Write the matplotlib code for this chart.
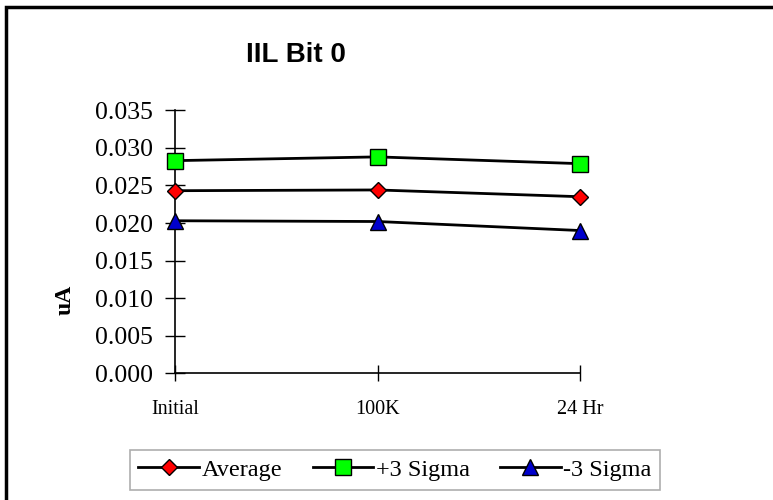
import matplotlib.pyplot as plt
from matplotlib.patches import Rectangle

categories = ["Initial", "100K", "24 Hr"]
average = [0.0243, 0.0244, 0.0235]
plus3 = [0.0283, 0.0288, 0.0279]
minus3 = [0.0203, 0.0202, 0.0190]
yticks = [0.000, 0.005, 0.010, 0.015, 0.020, 0.025, 0.030, 0.035]

serif = "Liberation Serif"
sans = "Liberation Sans"

fig = plt.figure(figsize=(7.73, 5.0), dpi=100)
ax = fig.add_axes([175 / 773, 1 - 373.3 / 500, 405 / 773, 263 / 500])

x = range(len(categories))
ax.plot(x, average, color="black", lw=2, marker="D", ms=8, mfc="#ff0000",
        mec="black", mew=1, label="Average", clip_on=False, zorder=3)
ax.plot(x, plus3, color="black", lw=2, marker="s", ms=12, mfc="#00ff00",
        mec="black", mew=1, label="+3 Sigma", clip_on=False, zorder=3)
ax.plot(x, minus3, color="black", lw=2, marker="^", ms=12, mfc="#0000cc",
        mec="black", mew=1, label="-3 Sigma", clip_on=False, zorder=3)

ax.set_xlim(0, 2)
ax.set_ylim(0, 0.035)
ax.set_yticks(yticks)
ax.set_yticklabels([f"{v:.3f}" for v in yticks], fontfamily=serif, fontsize=18.5)
ax.set_xticks(list(x))
ax.set_xticklabels(categories, fontfamily=serif, fontsize=14.5)
ax.tick_params(axis="y", direction="inout", length=14, width=1, pad=9)
ax.tick_params(axis="x", direction="inout", length=12, width=1, pad=13)

for s in ["top", "right"]:
    ax.spines[s].set_visible(False)
ax.spines["left"].set_linewidth(1.2)
ax.spines["bottom"].set_linewidth(1.2)

ax.set_ylabel("uA", fontfamily=serif, fontsize=17, fontweight="bold")
ax.yaxis.set_label_coords(-0.245, 0.28)

fig.text(296 / 773, 1 - 55 / 500, "IIL Bit 0", fontfamily=sans, fontsize=20,
         fontweight="bold", ha="center", va="center")

leg = fig.legend(loc="center", bbox_to_anchor=(395 / 773, 1 - 470 / 500), ncol=3,
                 frameon=True, fancybox=False, edgecolor="#999999",
                 prop={"family": serif, "size": 17.5}, handlelength=2.5,
                 handletextpad=0.1, columnspacing=1.25, borderpad=0.35)
leg.get_frame().set_linewidth(1.2)

fig.patches.append(Rectangle((6 / 773, -0.1), 1.2, 1.1 - 7 / 500, transform=fig.transFigure,
                             fill=False, edgecolor="black", lw=2.5))

fig.savefig("out.png", dpi=100)
